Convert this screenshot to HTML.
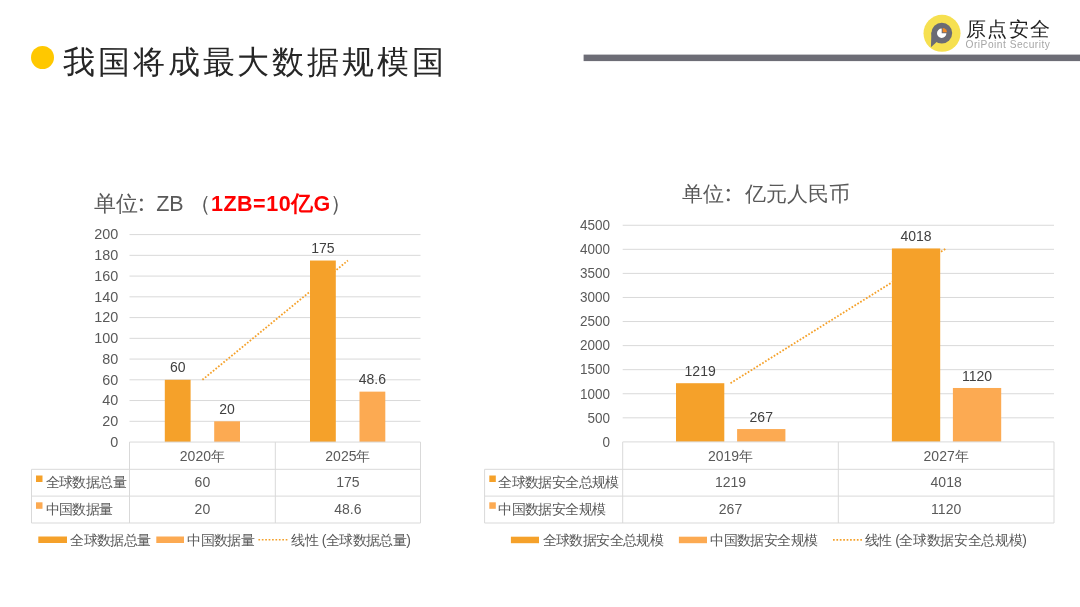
<!DOCTYPE html>
<html><head><meta charset="utf-8">
<style>
html,body{margin:0;padding:0;background:#fff;}
body{width:1080px;height:607px;overflow:hidden;position:relative;font-family:'Liberation Sans', sans-serif;}
.abs{position:absolute;white-space:nowrap;}
</style></head><body>
<div class="abs" style="left:31px;top:46px;width:23px;height:23px;border-radius:50%;background:#FFC800"></div>
<div class="abs" id="title" style="will-change:transform;left:63px;top:40.5px;font-size:32px;line-height:42px;letter-spacing:2.9px;color:#262626">我国将成最大数据规模国</div>
<svg class="abs" style="left:0;top:0;will-change:transform" width="1080" height="607" viewBox="0 0 1080 607" font-family="'Liberation Sans', sans-serif">
<rect x="583.6" y="54.6" width="500" height="6.5" fill="#6D6D76"/>
<!-- logo -->
<circle cx="942" cy="33.3" r="18.5" fill="#F6E050"/>
<circle cx="941.8" cy="33.1" r="10.4" fill="#6B6B74"/>
<path d="M931.4 32 L930.9 47.3 L937.5 41.2 L934 36 Z" fill="#6B6B74"/>
<path d="M941.7 33.3 L941.7 28.6 A4.7 4.7 0 1 0 946.4 33.3 Z" fill="#fff"/>
<path d="M942.7 32.3 L942.7 28.1 A4.2 4.2 0 0 1 946.9 32.3 Z" fill="#F28A24"/>
<text x="965.5" y="36.3" font-size="20" letter-spacing="1.6" fill="#1E1E1E">原点安全</text>
<text x="965.5" y="47.5" font-size="10.2" letter-spacing="0.5" fill="#A6A6A6">OriPoint Security</text>
<!-- chart titles -->
<text y="211" font-size="21.5" fill="#595959"><tspan x="93.8">单位</tspan><tspan x="156.2">ZB</tspan><tspan x="189">（</tspan><tspan x="211" fill="#FF0000" font-weight="bold" letter-spacing="0.5">1ZB=10亿G</tspan><tspan x="329.5">）</tspan></text>
<circle cx="141.4" cy="200.1" r="1.5" fill="#595959"/><circle cx="141.4" cy="209.5" r="1.5" fill="#595959"/>
<text y="200.7" font-size="21" fill="#595959"><tspan x="681.5">单位</tspan><tspan x="745">亿元人民币</tspan></text>
<circle cx="728.3" cy="190.3" r="1.5" fill="#595959"/><circle cx="728.3" cy="199.7" r="1.5" fill="#595959"/>
<line x1="129.5" y1="421.31" x2="420.5" y2="421.31" stroke="#D9D9D9" stroke-width="1"/>
<line x1="129.5" y1="400.56" x2="420.5" y2="400.56" stroke="#D9D9D9" stroke-width="1"/>
<line x1="129.5" y1="379.81" x2="420.5" y2="379.81" stroke="#D9D9D9" stroke-width="1"/>
<line x1="129.5" y1="359.07" x2="420.5" y2="359.07" stroke="#D9D9D9" stroke-width="1"/>
<line x1="129.5" y1="338.33" x2="420.5" y2="338.33" stroke="#D9D9D9" stroke-width="1"/>
<line x1="129.5" y1="317.58" x2="420.5" y2="317.58" stroke="#D9D9D9" stroke-width="1"/>
<line x1="129.5" y1="296.84" x2="420.5" y2="296.84" stroke="#D9D9D9" stroke-width="1"/>
<line x1="129.5" y1="276.09" x2="420.5" y2="276.09" stroke="#D9D9D9" stroke-width="1"/>
<line x1="129.5" y1="255.34" x2="420.5" y2="255.34" stroke="#D9D9D9" stroke-width="1"/>
<line x1="129.5" y1="234.6" x2="420.5" y2="234.6" stroke="#D9D9D9" stroke-width="1"/>
<text transform="translate(118.2 446.85) scale(1 1.05)" text-anchor="end" font-size="14.4" fill="#595959">0</text>
<text transform="translate(118.2 426.11) scale(1 1.05)" text-anchor="end" font-size="14.4" fill="#595959">20</text>
<text transform="translate(118.2 405.36) scale(1 1.05)" text-anchor="end" font-size="14.4" fill="#595959">40</text>
<text transform="translate(118.2 384.62) scale(1 1.05)" text-anchor="end" font-size="14.4" fill="#595959">60</text>
<text transform="translate(118.2 363.87) scale(1 1.05)" text-anchor="end" font-size="14.4" fill="#595959">80</text>
<text transform="translate(118.2 343.13) scale(1 1.05)" text-anchor="end" font-size="14.4" fill="#595959">100</text>
<text transform="translate(118.2 322.38) scale(1 1.05)" text-anchor="end" font-size="14.4" fill="#595959">120</text>
<text transform="translate(118.2 301.64) scale(1 1.05)" text-anchor="end" font-size="14.4" fill="#595959">140</text>
<text transform="translate(118.2 280.89) scale(1 1.05)" text-anchor="end" font-size="14.4" fill="#595959">160</text>
<text transform="translate(118.2 260.14) scale(1 1.05)" text-anchor="end" font-size="14.4" fill="#595959">180</text>
<text transform="translate(118.2 239.4) scale(1 1.05)" text-anchor="end" font-size="14.4" fill="#595959">200</text>
<line x1="202.4" y1="379.81" x2="347.9" y2="260.53" stroke="#F5A12A" stroke-width="1.8" stroke-dasharray="1.7 1.7"/>
<rect x="164.8" y="379.81" width="25.8" height="62.24" fill="#F5A12A"/>
<text x="177.7" y="372.42" text-anchor="middle" font-size="14" fill="#404040">60</text>
<rect x="214.2" y="421.31" width="25.8" height="20.75" fill="#FCAA52"/>
<text x="227.1" y="413.91" text-anchor="middle" font-size="14" fill="#404040">20</text>
<rect x="310" y="260.53" width="25.8" height="181.52" fill="#F5A12A"/>
<text x="322.9" y="253.13" text-anchor="middle" font-size="14" fill="#404040">175</text>
<rect x="359.5" y="391.64" width="25.8" height="50.41" fill="#FCAA52"/>
<text x="372.4" y="384.24" text-anchor="middle" font-size="14" fill="#404040">48.6</text>
<line x1="129.5" y1="442.05" x2="420.5" y2="442.05" stroke="#D9D9D9" stroke-width="1"/>
<line x1="31.5" y1="469.3" x2="420.5" y2="469.3" stroke="#D9D9D9" stroke-width="1"/>
<line x1="31.5" y1="496.1" x2="420.5" y2="496.1" stroke="#D9D9D9" stroke-width="1"/>
<line x1="31.5" y1="523" x2="420.5" y2="523" stroke="#D9D9D9" stroke-width="1"/>
<line x1="129.5" y1="442.05" x2="129.5" y2="523" stroke="#D9D9D9" stroke-width="1"/>
<line x1="275.3" y1="442.05" x2="275.3" y2="523" stroke="#D9D9D9" stroke-width="1"/>
<line x1="420.5" y1="442.05" x2="420.5" y2="523" stroke="#D9D9D9" stroke-width="1"/>
<line x1="31.5" y1="469.3" x2="31.5" y2="523" stroke="#D9D9D9" stroke-width="1"/>
<text x="202.4" y="461.4" text-anchor="middle" font-size="14" fill="#595959">2020年</text>
<text x="202.4" y="486.6" text-anchor="middle" font-size="14" fill="#595959">60</text>
<text x="202.4" y="513.6" text-anchor="middle" font-size="14" fill="#595959">20</text>
<text x="347.9" y="461.4" text-anchor="middle" font-size="14" fill="#595959">2025年</text>
<text x="347.9" y="486.6" text-anchor="middle" font-size="14" fill="#595959">175</text>
<text x="347.9" y="513.6" text-anchor="middle" font-size="14" fill="#595959">48.6</text>
<rect x="36" y="475.5" width="6.5" height="6.5" fill="#F5A12A"/>
<rect x="36" y="502.3" width="6.5" height="6.5" fill="#FCAA52"/>
<text x="45.5" y="486.6" font-size="14" letter-spacing="-0.6" fill="#595959">全球数据总量</text>
<text x="45.5" y="513.6" font-size="14" letter-spacing="-0.6" fill="#595959">中国数据量</text>
<rect x="38.3" y="536.5" width="28.7" height="6.5" fill="#F5A12A"/>
<text x="70.2" y="544.5" font-size="14" letter-spacing="-0.6" fill="#595959">全球数据总量</text>
<rect x="156.3" y="536.5" width="27.7" height="6.5" fill="#FCAA52"/>
<text x="187.2" y="544.5" font-size="14" letter-spacing="-0.6" fill="#595959">中国数据量</text>
<line x1="258.4" y1="539.7" x2="288" y2="539.7" stroke="#F5A12A" stroke-width="1.6" stroke-dasharray="1.7 1.71"/>
<text x="291.3" y="544.5" font-size="14" letter-spacing="-0.6" fill="#595959">线性<tspan dx="0.3" letter-spacing="-0.6"> (全球数据总量)</tspan></text>
<line x1="622.7" y1="417.83" x2="1054" y2="417.83" stroke="#D9D9D9" stroke-width="1"/>
<line x1="622.7" y1="393.76" x2="1054" y2="393.76" stroke="#D9D9D9" stroke-width="1"/>
<line x1="622.7" y1="369.68" x2="1054" y2="369.68" stroke="#D9D9D9" stroke-width="1"/>
<line x1="622.7" y1="345.61" x2="1054" y2="345.61" stroke="#D9D9D9" stroke-width="1"/>
<line x1="622.7" y1="321.54" x2="1054" y2="321.54" stroke="#D9D9D9" stroke-width="1"/>
<line x1="622.7" y1="297.47" x2="1054" y2="297.47" stroke="#D9D9D9" stroke-width="1"/>
<line x1="622.7" y1="273.39" x2="1054" y2="273.39" stroke="#D9D9D9" stroke-width="1"/>
<line x1="622.7" y1="249.32" x2="1054" y2="249.32" stroke="#D9D9D9" stroke-width="1"/>
<line x1="622.7" y1="225.25" x2="1054" y2="225.25" stroke="#D9D9D9" stroke-width="1"/>
<text transform="translate(610.1 446.7) scale(1 1.08)" text-anchor="end" font-size="13.5" fill="#595959">0</text>
<text transform="translate(610.1 422.63) scale(1 1.08)" text-anchor="end" font-size="13.5" fill="#595959">500</text>
<text transform="translate(610.1 398.56) scale(1 1.08)" text-anchor="end" font-size="13.5" fill="#595959">1000</text>
<text transform="translate(610.1 374.48) scale(1 1.08)" text-anchor="end" font-size="13.5" fill="#595959">1500</text>
<text transform="translate(610.1 350.41) scale(1 1.08)" text-anchor="end" font-size="13.5" fill="#595959">2000</text>
<text transform="translate(610.1 326.34) scale(1 1.08)" text-anchor="end" font-size="13.5" fill="#595959">2500</text>
<text transform="translate(610.1 302.27) scale(1 1.08)" text-anchor="end" font-size="13.5" fill="#595959">3000</text>
<text transform="translate(610.1 278.19) scale(1 1.08)" text-anchor="end" font-size="13.5" fill="#595959">3500</text>
<text transform="translate(610.1 254.12) scale(1 1.08)" text-anchor="end" font-size="13.5" fill="#595959">4000</text>
<text transform="translate(610.1 230.05) scale(1 1.08)" text-anchor="end" font-size="13.5" fill="#595959">4500</text>
<line x1="730.5" y1="383.21" x2="946.15" y2="248.46" stroke="#F5A12A" stroke-width="1.8" stroke-dasharray="1.7 1.7"/>
<rect x="676" y="383.21" width="48.3" height="58.69" fill="#F5A12A"/>
<text x="700.15" y="375.81" text-anchor="middle" font-size="14" fill="#404040">1219</text>
<rect x="737.1" y="429.05" width="48.3" height="12.85" fill="#FCAA52"/>
<text x="761.25" y="421.65" text-anchor="middle" font-size="14" fill="#404040">267</text>
<rect x="891.9" y="248.46" width="48.3" height="193.44" fill="#F5A12A"/>
<text x="916.05" y="241.06" text-anchor="middle" font-size="14" fill="#404040">4018</text>
<rect x="952.9" y="387.98" width="48.3" height="53.92" fill="#FCAA52"/>
<text x="977.05" y="380.58" text-anchor="middle" font-size="14" fill="#404040">1120</text>
<line x1="622.7" y1="441.9" x2="1054" y2="441.9" stroke="#D9D9D9" stroke-width="1"/>
<line x1="484.6" y1="469.3" x2="1054" y2="469.3" stroke="#D9D9D9" stroke-width="1"/>
<line x1="484.6" y1="496.1" x2="1054" y2="496.1" stroke="#D9D9D9" stroke-width="1"/>
<line x1="484.6" y1="523" x2="1054" y2="523" stroke="#D9D9D9" stroke-width="1"/>
<line x1="622.7" y1="441.9" x2="622.7" y2="523" stroke="#D9D9D9" stroke-width="1"/>
<line x1="838.3" y1="441.9" x2="838.3" y2="523" stroke="#D9D9D9" stroke-width="1"/>
<line x1="1054" y1="441.9" x2="1054" y2="523" stroke="#D9D9D9" stroke-width="1"/>
<line x1="484.6" y1="469.3" x2="484.6" y2="523" stroke="#D9D9D9" stroke-width="1"/>
<text x="730.5" y="461.4" text-anchor="middle" font-size="14" fill="#595959">2019年</text>
<text x="730.5" y="486.6" text-anchor="middle" font-size="14" fill="#595959">1219</text>
<text x="730.5" y="513.6" text-anchor="middle" font-size="14" fill="#595959">267</text>
<text x="946.15" y="461.4" text-anchor="middle" font-size="14" fill="#595959">2027年</text>
<text x="946.15" y="486.6" text-anchor="middle" font-size="14" fill="#595959">4018</text>
<text x="946.15" y="513.6" text-anchor="middle" font-size="14" fill="#595959">1120</text>
<rect x="489.3" y="475.5" width="6.5" height="6.5" fill="#F5A12A"/>
<rect x="489.3" y="502.3" width="6.5" height="6.5" fill="#FCAA52"/>
<text x="498.3" y="486.6" font-size="14" letter-spacing="-0.6" fill="#595959">全球数据安全总规模</text>
<text x="498.3" y="513.6" font-size="14" letter-spacing="-0.6" fill="#595959">中国数据安全规模</text>
<rect x="510.9" y="536.7" width="28.1" height="6.5" fill="#F5A12A"/>
<text x="542.6" y="544.5" font-size="14" letter-spacing="-0.6" fill="#595959">全球数据安全总规模</text>
<rect x="678.9" y="536.7" width="28.1" height="6.5" fill="#FCAA52"/>
<text x="710.3" y="544.5" font-size="14" letter-spacing="-0.6" fill="#595959">中国数据安全规模</text>
<line x1="833" y1="539.9" x2="862.5" y2="539.9" stroke="#F5A12A" stroke-width="1.6" stroke-dasharray="1.7 1.71"/>
<text x="865" y="544.5" font-size="14" letter-spacing="-0.6" fill="#595959">线性<tspan dx="-0.2" letter-spacing="-0.35"> (全球数据安全总规模)</tspan></text>
</svg>
</body></html>
